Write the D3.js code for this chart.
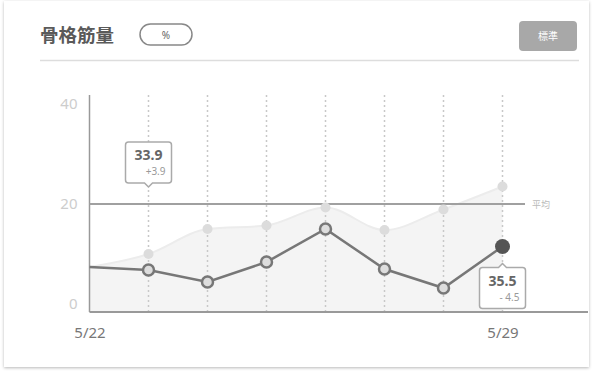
<!DOCTYPE html>
<html>
<head>
<meta charset="utf-8">
<script src="https://cdn.jsdelivr.net/npm/d3@7"></script>
<style>
  html, body { margin: 0; padding: 0; background: #fff; }
  svg { display: block; }
</style>
</head>
<body>
<svg id="chart" width="601" height="373"></svg>
<script>
// Skeletal muscle mass, one week of daily readings
const dates = ["5/22", "5/23", "5/24", "5/25", "5/26", "5/27", "5/28", "5/29"];
const dateLabels = ["5/22", "5/29"];
const userValues = [7.4, 6.8, 4.4, 8.4, 15.0, 7.0, 3.2, 11.5];
const refValues = [7.4, 10.0, 15.0, 15.7, 19.3, 14.8, 18.9, 23.5];
const averageValue = 20;
const yTicks = [0, 20, 40];
const callouts = [
  { index: 1, value: "33.9", diff: "+3.9", side: "above" },
  { index: 7, value: "35.5", diff: "- 4.5", side: "below" }
];

const svg = d3.select("#chart");
const sans = "'Noto Sans', 'Open Sans', sans-serif";
const jp = "'Noto Sans CJK JP', 'Noto Sans', sans-serif";

// Card
const defs = svg.append("defs");
const shadow = defs.append("filter").attr("id", "cardShadow")
  .attr("x", "-5%").attr("y", "-5%").attr("width", "110%").attr("height", "110%");
shadow.append("feDropShadow").attr("dx", 0).attr("dy", 1).attr("stdDeviation", 1.6)
  .attr("flood-color", "#000").attr("flood-opacity", 0.28);
svg.append("rect").attr("x", 4).attr("y", 1).attr("width", 585).attr("height", 366)
  .attr("fill", "#fff").attr("filter", "url(#cardShadow)");

// Header
svg.append("text").attr("x", 40).attr("y", 42)
  .attr("font-family", jp).attr("font-weight", 700).attr("font-size", 18.5)
  .attr("fill", "#5a5a5a").text("骨格筋量");
svg.append("rect").attr("x", 140).attr("y", 24).attr("width", 52).attr("height", 21)
  .attr("rx", 10.5).attr("fill", "#fff").attr("stroke", "#888").attr("stroke-width", 1.5);
svg.append("text").attr("x", 166).attr("y", 38.5).attr("text-anchor", "middle")
  .attr("font-family", sans).attr("font-size", 10).attr("fill", "#666").text("%");
svg.append("rect").attr("x", 519).attr("y", 21).attr("width", 58).attr("height", 30)
  .attr("rx", 4).attr("fill", "#a8a8a8");
svg.append("text").attr("x", 548).attr("y", 40).attr("text-anchor", "middle")
  .attr("font-family", jp).attr("font-size", 10).attr("fill", "#fff").text("標準");
svg.append("line").attr("x1", 40).attr("x2", 579).attr("y1", 60.5).attr("y2", 60.5)
  .attr("stroke", "#ddd").attr("stroke-width", 1.5);

// Scales
const x = d3.scaleLinear().domain([0, dates.length - 1]).range([89.5, 502.5]);
const y = d3.scaleLinear().domain([-1.6, 41.8]).range([312, 95]);
const plotRight = 588;

// Reference band (smooth area)
const refArea = d3.area().x((d, i) => x(i)).y0(y(-1.6)).y1(d => y(d)).curve(d3.curveMonotoneX);
svg.append("path").datum(refValues).attr("d", refArea).attr("fill", "#f4f4f4");
const refLine = d3.line().x((d, i) => x(i)).y(d => y(d)).curve(d3.curveMonotoneX);
svg.append("path").datum(refValues).attr("d", refLine)
  .attr("fill", "none").attr("stroke", "#ececec").attr("stroke-width", 2);

// Dotted day guides
svg.append("g").selectAll("line").data(dates.slice(1)).join("line")
  .attr("x1", (d, i) => x(i + 1)).attr("x2", (d, i) => x(i + 1))
  .attr("y1", 95).attr("y2", 312)
  .attr("stroke", "#c8c8c8").attr("stroke-width", 1.5).attr("stroke-dasharray", "2,3");

// Axes
svg.append("line").attr("x1", x(0)).attr("x2", x(0)).attr("y1", 95).attr("y2", 312)
  .attr("stroke", "#999").attr("stroke-width", 1.5);
svg.append("line").attr("x1", x(0)).attr("x2", plotRight).attr("y1", 312).attr("y2", 312)
  .attr("stroke", "#999").attr("stroke-width", 1.8);

const yAxis = d3.axisLeft(y).tickValues(yTicks).tickSize(0).tickPadding(12);
const yG = svg.append("g").attr("transform", `translate(${x(0)},0)`).call(yAxis);
yG.select(".domain").remove();
yG.selectAll("text").attr("font-family", sans).attr("font-size", 15)
  .attr("fill", "#cdcdcd").attr("dy", "0.3em");

const xAxis = d3.axisBottom(x).tickValues(dateLabels.map(d => dates.indexOf(d)))
  .tickFormat(i => dates[i]).tickSize(0).tickPadding(15);
const xG = svg.append("g").attr("transform", "translate(0,312)").call(xAxis);
xG.select(".domain").remove();
xG.selectAll("text").attr("font-family", sans).attr("font-size", 15).attr("fill", "#777");

// Average line
svg.append("line").attr("x1", x(0)).attr("x2", 525)
  .attr("y1", y(averageValue)).attr("y2", y(averageValue))
  .attr("stroke", "#a0a0a0").attr("stroke-width", 2);
svg.append("text").attr("x", 532).attr("y", y(averageValue) + 3.5)
  .attr("font-family", jp).attr("font-size", 9).attr("fill", "#bbb").text("平均");

// Reference points
svg.append("g").selectAll("circle").data(refValues.slice(1)).join("circle")
  .attr("cx", (d, i) => x(i + 1)).attr("cy", d => y(d)).attr("r", 5)
  .attr("fill", "#dcdcdc");

// User line and points
const userLine = d3.line().x((d, i) => x(i)).y(d => y(d));
svg.append("path").datum(userValues).attr("d", userLine)
  .attr("fill", "none").attr("stroke", "#777").attr("stroke-width", 2.5);
const last = userValues.length - 1;
svg.append("g").selectAll("circle").data(userValues.slice(1, last)).join("circle")
  .attr("cx", (d, i) => x(i + 1)).attr("cy", d => y(d)).attr("r", 5.5)
  .attr("fill", "#ddd").attr("stroke", "#777").attr("stroke-width", 2.5);
svg.append("circle").attr("cx", x(last)).attr("cy", y(userValues[last])).attr("r", 7.5)
  .attr("fill", "#555");

// Callouts
callouts.forEach(c => {
  const cx = x(c.index);
  const w = 46, h = 41;
  let top, path;
  if (c.side === "above") {
    top = 142;
    path = `M${cx - w / 2},${top + 3} q0,-3 3,-3 h${w - 6} q3,0 3,3 v${h - 6} q0,3 -3,3 h${-(w / 2 - 7)} l-4,4 l-4,-4 h${-(w / 2 - 7)} q-3,0 -3,-3 z`;
  } else {
    top = 267.5;
    path = `M${cx - w / 2},${top + 3} q0,-3 3,-3 h${w / 2 - 7} l4,-4 l4,4 h${w / 2 - 7} q3,0 3,3 v${h - 6} q0,3 -3,3 h${-(w - 6)} q-3,0 -3,-3 z`;
  }
  svg.append("path").attr("d", path).attr("fill", "#fff")
    .attr("stroke", "#aaa").attr("stroke-width", 1.5);
  svg.append("text").attr("x", cx).attr("y", top + 18).attr("text-anchor", "middle")
    .attr("font-family", sans).attr("font-weight", 700).attr("font-size", 14)
    .attr("fill", "#666").text(c.value);
  svg.append("text").attr("x", cx + w / 2 - 6).attr("y", top + 33).attr("text-anchor", "end")
    .attr("font-family", sans).attr("font-size", 10).attr("fill", "#999").text(c.diff);
});
</script>
</body>
</html>
